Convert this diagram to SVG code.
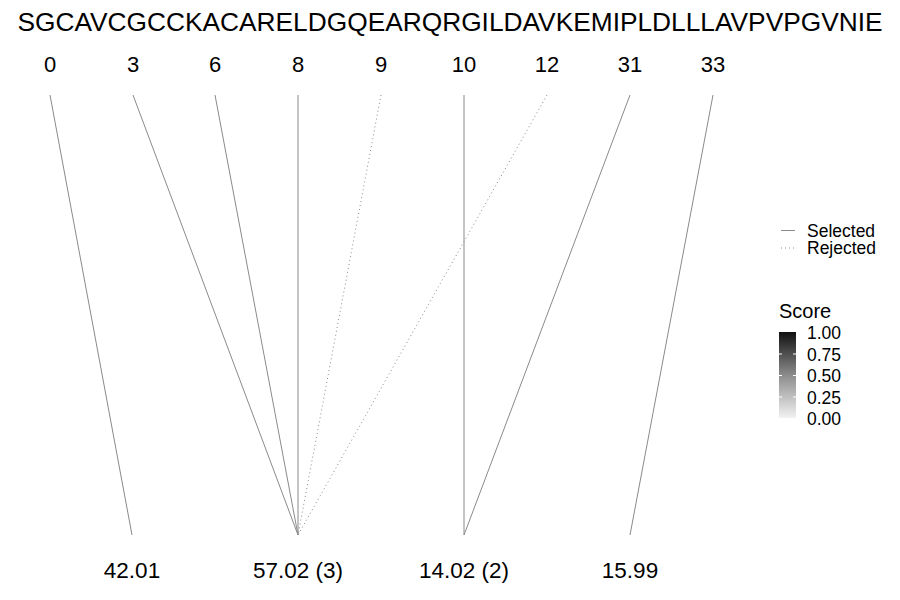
<svg xmlns="http://www.w3.org/2000/svg" width="900" height="600" viewBox="0 0 900 600">
<style>
text{font-family:"Liberation Sans",Arial,sans-serif;fill:#000}
.seq{font-size:26.3px}
.pos{font-size:22px}
.mass{font-size:22.5px}
.leg{font-size:17.5px}
.sel{stroke:#8a8a8a;stroke-width:1;fill:none}
.rej{stroke:#8a8a8a;stroke-width:1;stroke-dasharray:1 3;fill:none}
.tick{stroke:#fff;stroke-width:1}
</style>
<defs>
<linearGradient id="g" x1="0" y1="1" x2="0" y2="0">
<stop offset="0" stop-color="#f2f2f2"/>
<stop offset="0.5" stop-color="#8c8c8c"/>
<stop offset="1" stop-color="#111111"/>
</linearGradient>
</defs>
<rect width="900" height="600" fill="#fff"/>
<g id="sequence"><text class="seq" x="450" y="31" text-anchor="middle">SGCAVCGCCKACARELDGQEARQRGILDAVKEMIPLDLLLAVPVPGVNIE</text></g>
<g id="positions" text-anchor="middle">
<g id="p0"><text class="pos" x="50" y="72">0</text></g>
<g id="p3"><text class="pos" x="133" y="72">3</text></g>
<g id="p6"><text class="pos" x="215" y="72">6</text></g>
<g id="p8"><text class="pos" x="298" y="72">8</text></g>
<g id="p9"><text class="pos" x="381" y="72">9</text></g>
<g id="p10"><text class="pos" x="464" y="72">10</text></g>
<g id="p12"><text class="pos" x="547" y="72">12</text></g>
<g id="p31"><text class="pos" x="630" y="72">31</text></g>
<g id="p33"><text class="pos" x="713" y="72">33</text></g>
</g>
<g id="masses" text-anchor="middle">
<g id="m1"><text class="mass" x="132" y="578">42.01</text></g>
<g id="m2"><text class="mass" x="298" y="578">57.02 (3)</text></g>
<g id="m3"><text class="mass" x="464" y="578">14.02 (2)</text></g>
<g id="m4"><text class="mass" x="630" y="578">15.99</text></g>
</g>
<g id="connectors">
<line class="sel" x1="50" y1="95" x2="132" y2="535"/>
<line class="sel" x1="133" y1="95" x2="298" y2="535"/>
<line class="sel" x1="215" y1="95" x2="298" y2="535"/>
<line class="sel" x1="298" y1="95" x2="298" y2="535"/>
<line class="rej" x1="381" y1="95" x2="298" y2="535"/>
<line class="sel" x1="464" y1="95" x2="464" y2="535"/>
<line class="rej" x1="547" y1="95" x2="298" y2="535"/>
<line class="sel" x1="630" y1="95" x2="464" y2="535"/>
<line class="sel" x1="713" y1="95" x2="630" y2="535"/>
</g>
<g id="legend-lines">
<line class="sel" x1="781" y1="230.5" x2="795" y2="230.5" stroke="#555"/>
<text class="leg" x="807" y="237">Selected</text>
<line class="rej" x1="781" y1="248" x2="795" y2="248" stroke="#555"/>
<text class="leg" x="807" y="254">Rejected</text>
</g>
<g id="legend-score">
<text x="779" y="318" style="font-size:20px">Score</text>
<rect x="779" y="332" width="17" height="86" fill="url(#g)"/>
<line class="tick" x1="779" y1="354" x2="782" y2="354"/><line class="tick" x1="793" y1="354" x2="796" y2="354"/>
<line class="tick" x1="779" y1="375.5" x2="782" y2="375.5"/><line class="tick" x1="793" y1="375.5" x2="796" y2="375.5"/>
<line class="tick" x1="779" y1="397" x2="782" y2="397"/><line class="tick" x1="793" y1="397" x2="796" y2="397"/>
<text class="leg" x="807" y="339">1.00</text>
<text class="leg" x="807" y="360.5">0.75</text>
<text class="leg" x="807" y="382">0.50</text>
<text class="leg" x="807" y="403.5">0.25</text>
<text class="leg" x="807" y="425">0.00</text>
</g>
</svg>
